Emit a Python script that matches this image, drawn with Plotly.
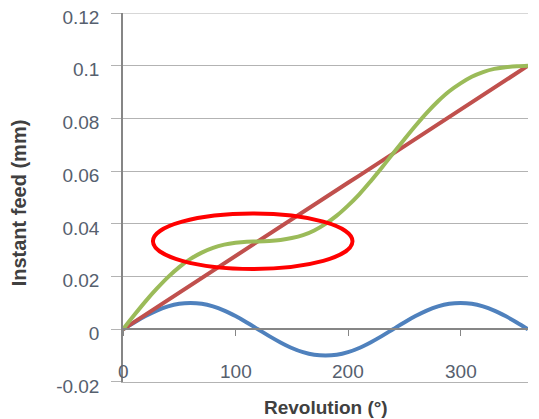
import plotly.graph_objects as go

# Revolution angle (degrees)
revolution = [0, 10, 20, 30, 40, 50, 60, 70, 80, 90, 100, 110, 120, 130, 140, 150, 160, 170, 180,
              190, 200, 210, 220, 230, 240, 250, 260, 270, 280, 290, 300, 310, 320, 330, 340, 350, 360]

# Linear (mean) feed - red
feed_linear = [0, 0.0028, 0.0056, 0.0083, 0.0111, 0.0139, 0.0167, 0.0194, 0.0222, 0.025, 0.0278,
               0.0306, 0.0333, 0.0361, 0.0389, 0.0417, 0.0444, 0.0472, 0.05, 0.0528, 0.0556, 0.0583,
               0.0611, 0.0639, 0.0667, 0.0694, 0.0722, 0.075, 0.0778, 0.0806, 0.0833, 0.0861,
               0.0889, 0.0917, 0.0944, 0.0972, 0.1]

# Oscillation component - blue
feed_oscillation = [0, 0.0026, 0.005, 0.0071, 0.0087, 0.0097, 0.01, 0.0097, 0.0087, 0.0071, 0.005,
                    0.0026, 0, -0.0026, -0.005, -0.0071, -0.0087, -0.0097, -0.01, -0.0097, -0.0087,
                    -0.0071, -0.005, -0.0026, 0, 0.0026, 0.005, 0.0071, 0.0087, 0.0097, 0.01, 0.0097,
                    0.0087, 0.0071, 0.005, 0.0026, 0]

# Instant feed - green
feed_instant = [0, 0.0054, 0.0106, 0.0154, 0.0198, 0.0236, 0.0267, 0.0291, 0.0309, 0.0321, 0.0328,
                0.0332, 0.0333, 0.0335, 0.0339, 0.0346, 0.0357, 0.0375, 0.04, 0.0431, 0.0469, 0.0512,
                0.0561, 0.0613, 0.0667, 0.072, 0.0772, 0.0821, 0.0865, 0.0903, 0.0933, 0.0958,
                0.0976, 0.0988, 0.0994, 0.0998, 0.1]

x_ticks = [0, 100, 200, 300]
x_tick_labels = ["0", "100", "200", "300"]
y_ticks = [-0.02, 0, 0.02, 0.04, 0.06, 0.08, 0.1, 0.12]
y_tick_labels = ["-0.02", "0", "0.02", "0.04", "0.06", "0.08", "0.1", "0.12"]

x_title = "Revolution (°)"
y_title = "Instant feed (mm)"

# Highlight ellipse (data coordinates)
ellipse_x = [26.6, 204]
ellipse_y = [0.0229, 0.0439]

FONT = "Liberation Sans"
LABEL_COLOR = "#56606e"
TITLE_COLOR = "#404040"
GRID_COLOR = "#b3b3b3"

fig = go.Figure()
fig.add_trace(go.Scatter(x=revolution, y=feed_oscillation, mode="lines",
                         line=dict(color="#4f81bd", width=4, shape="spline"), showlegend=False))
fig.add_trace(go.Scatter(x=revolution, y=feed_linear, mode="lines",
                         line=dict(color="#c0504d", width=4), showlegend=False))
fig.add_trace(go.Scatter(x=revolution, y=feed_instant, mode="lines",
                         line=dict(color="#9bbb59", width=4, shape="spline"), showlegend=False))
# invisible trace to activate the zero-line axis (xaxis2)
fig.add_trace(go.Scatter(x=[0], y=[0], xaxis="x2", mode="markers", marker=dict(opacity=0),
                         showlegend=False, hoverinfo="skip"))

fig.add_shape(type="circle", xref="x", yref="y",
              x0=ellipse_x[0], x1=ellipse_x[1], y0=ellipse_y[0], y1=ellipse_y[1],
              line=dict(color="#ff0000", width=4))

# top gridline + its outside tick (the edge gridline is not always drawn by the axis)
fig.add_shape(type="line", xref="paper", yref="y", x0=-10 / 405, x1=1,
              y0=y_ticks[-1], y1=y_ticks[-1], line=dict(color=GRID_COLOR, width=1), layer="below")

# x tick labels drawn just above the bottom gridline (inside the plot area)
for xv, lab in zip(x_ticks, x_tick_labels):
    fig.add_annotation(x=xv, y=0, xref="x", yref="paper", yanchor="bottom", xanchor="center",
                       text=lab, showarrow=False, yshift=-2,
                       font=dict(family=FONT, size=19, color=LABEL_COLOR))

fig.add_annotation(x=0.5, y=-0.068, xref="paper", yref="paper", xanchor="center", yanchor="middle",
                   text="<b>" + x_title + "</b>", showarrow=False,
                   font=dict(family=FONT, size=19, color=TITLE_COLOR))
fig.add_annotation(x=-0.256, y=0.485, xref="paper", yref="paper", xanchor="center", yanchor="middle",
                   text="<b>" + y_title + "</b>", showarrow=False, textangle=-90,
                   font=dict(family=FONT, size=20, color=TITLE_COLOR))

fig.update_layout(
    width=531, height=411,
    margin=dict(l=115, r=11, t=5, b=37, autoexpand=False),
    paper_bgcolor="white", plot_bgcolor="white",
    font=dict(family=FONT, size=19, color=LABEL_COLOR),
    xaxis=dict(range=[0, 360], tickvals=x_ticks, showticklabels=False, showgrid=False,
               zeroline=False, showline=True, linecolor=GRID_COLOR, linewidth=1, ticks="",
               automargin=False),
    xaxis2=dict(range=[0, 360], overlaying="x", anchor="free", position=1/7,
                tickvals=x_ticks, showticklabels=False, ticks="outside", ticklen=6,
                tickcolor="#868686", showline=True, linecolor="#868686", linewidth=1.5,
                showgrid=False, zeroline=False, automargin=False),
    yaxis=dict(range=[-0.02001, 0.12001], tickvals=y_ticks, ticktext=y_tick_labels,
               showgrid=True, gridcolor=GRID_COLOR, gridwidth=1, zeroline=False,
               showline=True, linecolor="#868686", linewidth=1.5,
               ticks="outside", ticklen=10, tickcolor=GRID_COLOR, automargin=False,
               ticklabeloverflow="allow", ticklabelshift=4, ticklabelstandoff=8,
               tickfont=dict(family=FONT, size=19, color=LABEL_COLOR)),
)

fig.write_html("out.html")
